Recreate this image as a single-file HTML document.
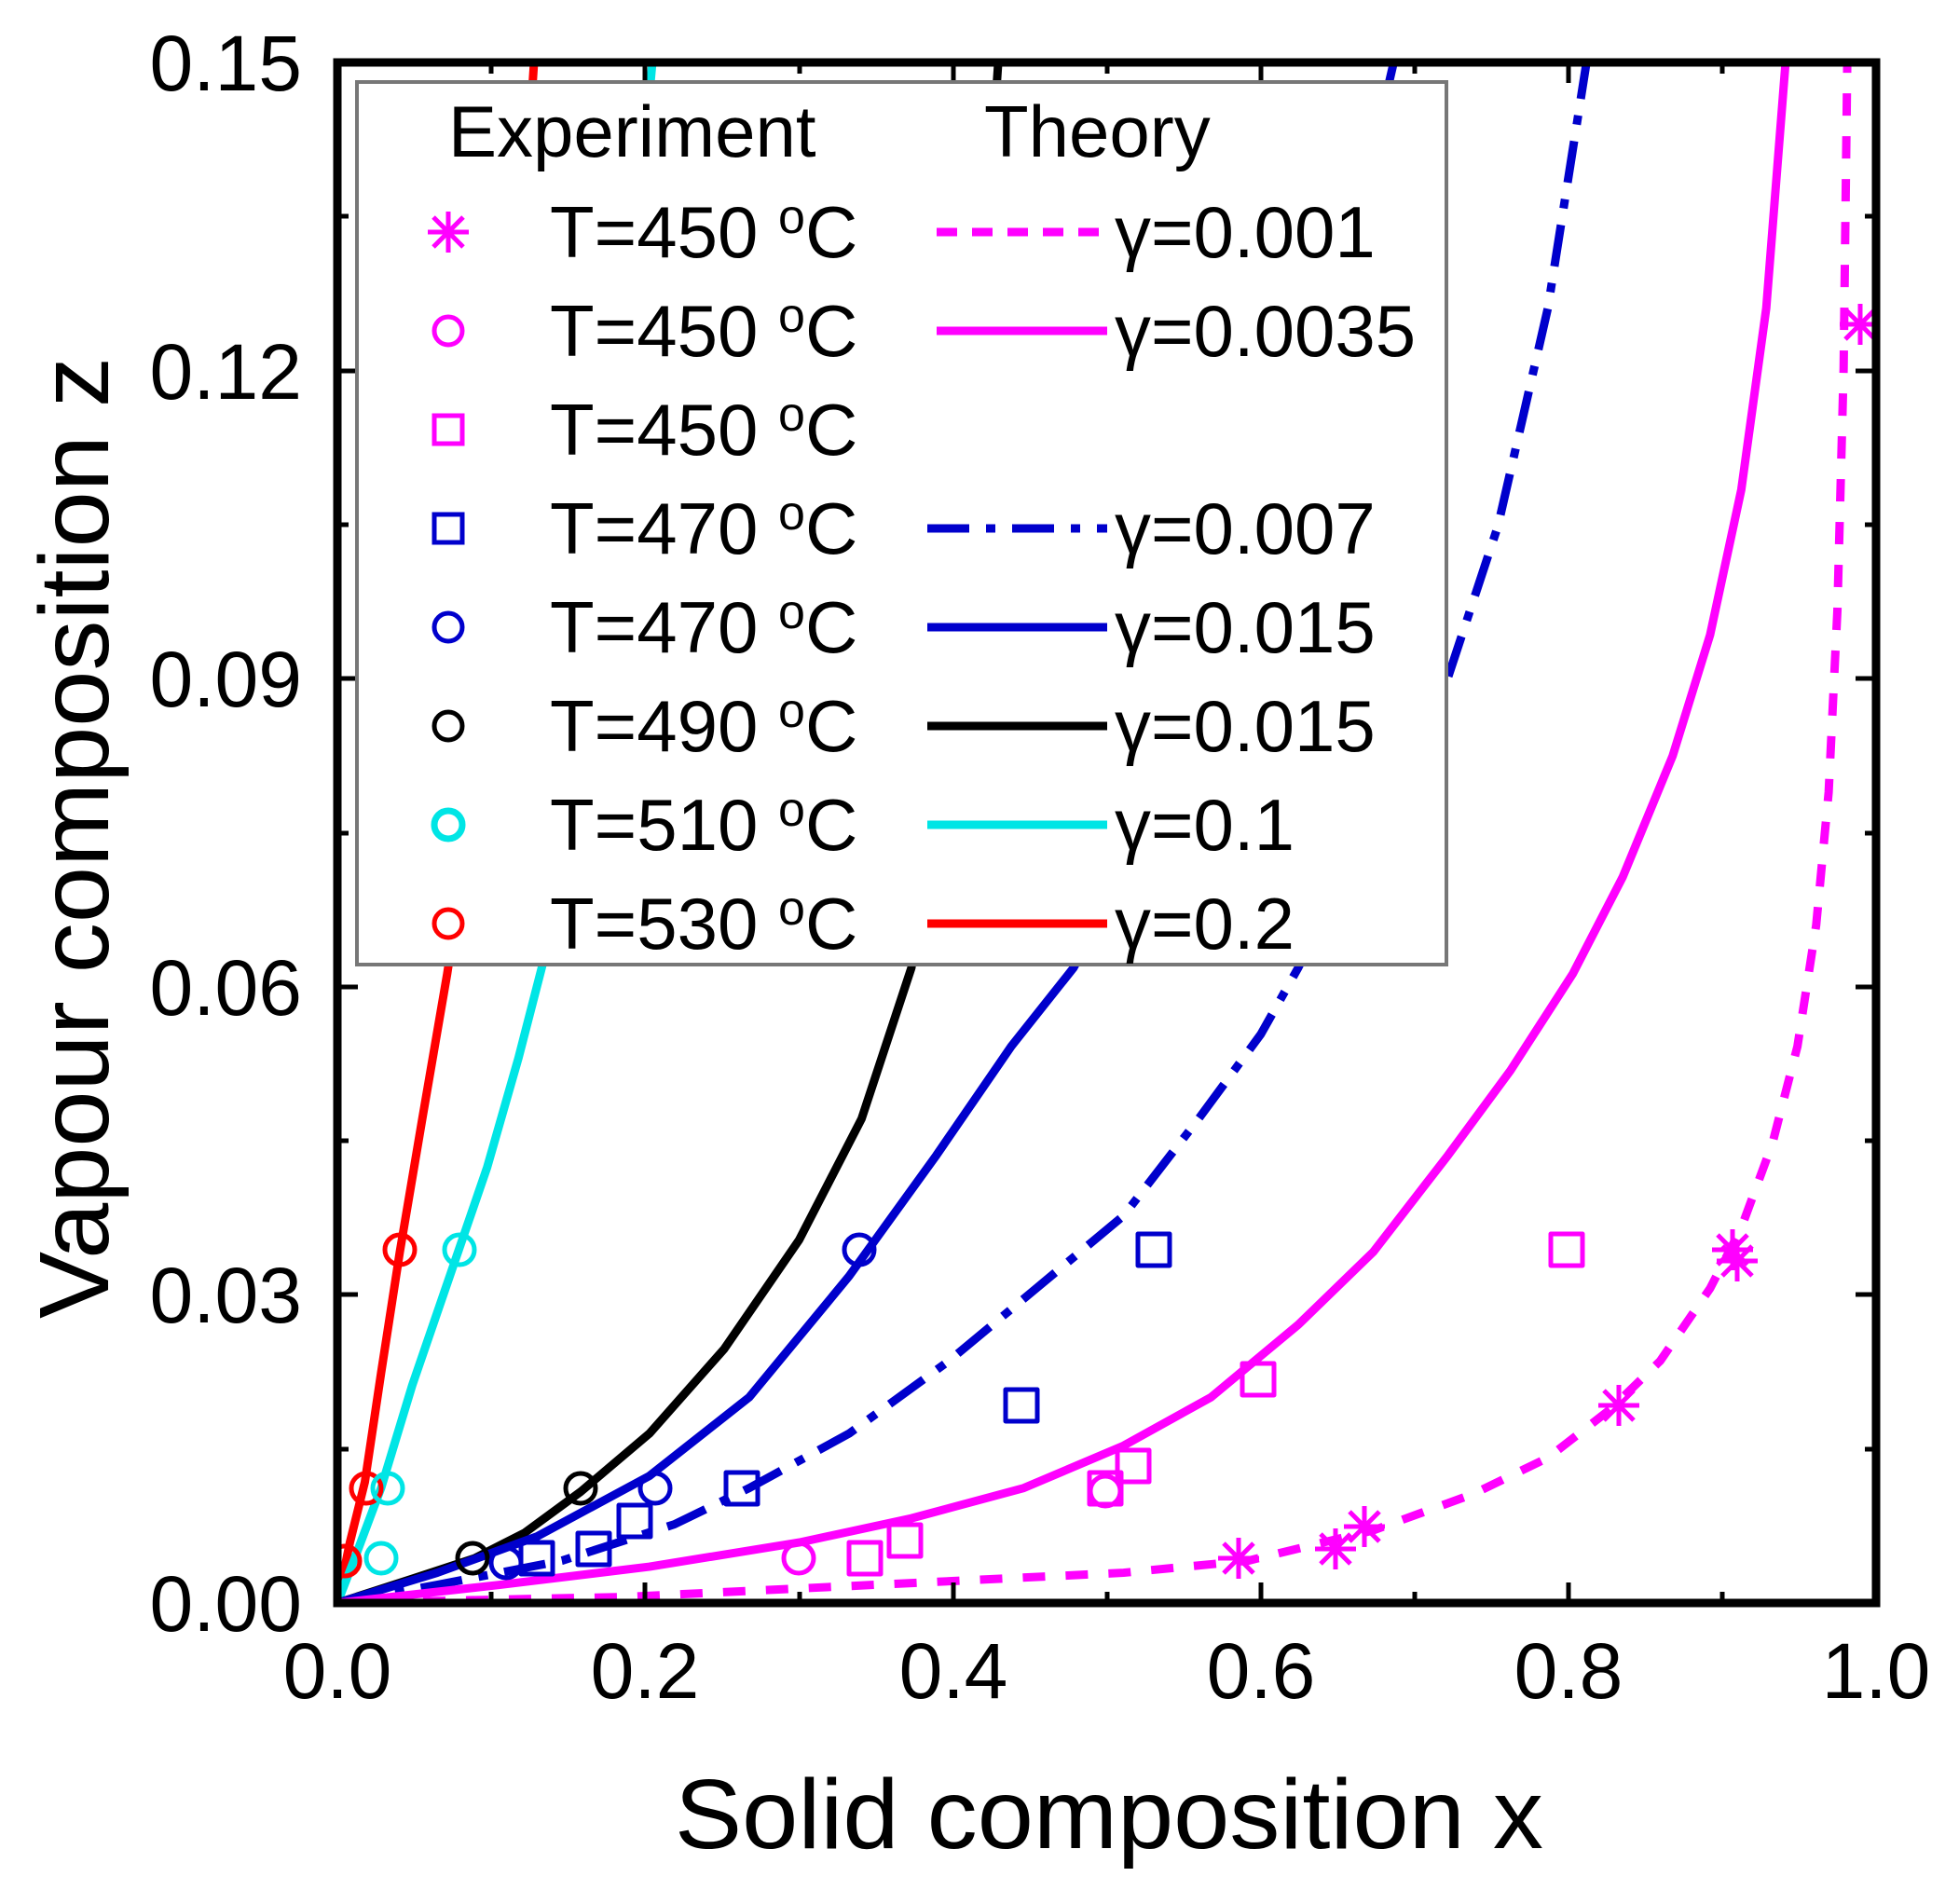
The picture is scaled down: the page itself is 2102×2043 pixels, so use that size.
<!DOCTYPE html>
<html><head><meta charset="utf-8"><style>
html,body{margin:0;padding:0;background:#fff}
svg{display:block;font-family:"Liberation Sans",Arial,sans-serif}
</style></head><body>
<svg width="2102" height="2043" viewBox="0 0 2102 2043" xmlns="http://www.w3.org/2000/svg">
<defs>
<clipPath id="pc"><rect x="362" y="67" width="1651" height="1653"/></clipPath>
<symbol id="st" overflow="visible"><path d="M-22 0H22M0 -22V22M-16 -16L16 16M-16 16L16 -16" stroke="#ff00ff" stroke-width="5" fill="none"/></symbol>
</defs>
<rect width="2102" height="2043" fill="#fff"/>
<g clip-path="url(#pc)" fill="none" stroke-linejoin="round">
<g transform="matrix(1.339 0 0 1.2985 0.5 6)">
<polyline vector-effect="non-scaling-stroke" stroke="#ff0000" stroke-width="9" points="270,1320 280,1270 292,1220 305,1130 320,1030 338,920 358,800 380,650 405,400 428,40"/>
<polyline vector-effect="non-scaling-stroke" stroke="#00e5e5" stroke-width="9" points="270,1320 285,1280 305,1225 330,1140 360,1050 390,960 415,870 435,790 470,550 500,300 523,40"/>
<polyline vector-effect="non-scaling-stroke" stroke="#000" stroke-width="9" points="270,1320 330,1300 380,1283 420,1262 465,1228 520,1180 580,1110 640,1020 690,920 730,795 770,500 800,40"/>
<polyline vector-effect="non-scaling-stroke" stroke="#0000cc" stroke-width="9" points="270,1320 350,1295 430,1265 520,1215 600,1150 680,1050 750,950 810,860 860,795 930,660 1000,500 1060,300 1118,40"/>
<polyline vector-effect="non-scaling-stroke" stroke="#0000cc" stroke-width="9" stroke-dasharray="45 18 10 18" points="270,1320 350,1305 450,1285 540,1255 600,1225 680,1180 760,1120 830,1060 900,1000 960,920 1010,850 1040,795 1090,690 1130,600 1160,555 1200,430 1240,250 1272,40"/>
<polyline vector-effect="non-scaling-stroke" stroke="#ff00ff" stroke-width="9" points="270,1320 400,1305 520,1290 640,1270 730,1250 820,1225 900,1190 970,1150 1040,1090 1100,1030 1160,950 1210,880 1260,800 1300,720 1340,620 1370,520 1395,400 1415,250 1431,40"/>
<polyline vector-effect="non-scaling-stroke" stroke="#ff00ff" stroke-width="9" stroke-dasharray="24 22" points="270,1320 500,1315 700,1305 900,1295 1000,1285 1100,1260 1180,1230 1240,1200 1290,1160 1330,1120 1370,1060 1395,1010 1420,940 1440,860 1455,760 1465,650 1472,500 1477,300 1480,40"/>
</g>
<g stroke-width="5">
<g stroke="#ff0000"><circle cx="429" cy="1341" r="16"/><circle cx="393" cy="1597" r="16"/><circle cx="370" cy="1675" r="16"/></g>
<g stroke="#00e5e5"><circle cx="493" cy="1341" r="16"/><circle cx="416" cy="1597" r="16"/><circle cx="409" cy="1672" r="16"/></g>
<g stroke="#000"><circle cx="623" cy="1597" r="16"/><circle cx="507" cy="1672" r="16"/></g>
<g stroke="#0000cc"><circle cx="922" cy="1341" r="16"/><circle cx="703" cy="1597" r="16"/><circle cx="543" cy="1677" r="16"/>
<rect x="1221" y="1324" width="34" height="34"/><rect x="1079" y="1491" width="34" height="34"/><rect x="779" y="1580" width="34" height="34"/><rect x="664" y="1615" width="34" height="34"/><rect x="620" y="1645" width="34" height="34"/><rect x="559" y="1655" width="34" height="34"/></g>
<g stroke="#ff00ff"><rect x="1664" y="1324" width="34" height="34"/><rect x="1333" y="1463" width="34" height="34"/><rect x="1199" y="1556" width="34" height="34"/><rect x="1169" y="1580" width="34" height="34"/><rect x="954" y="1636" width="34" height="34"/><rect x="911" y="1655" width="34" height="34"/>
<circle cx="857" cy="1672" r="16"/><circle cx="1186" cy="1600" r="16"/></g>
</g>
<use href="#st" x="1996" y="348"/><use href="#st" x="1859" y="1341"/><use href="#st" x="1864" y="1353"/><use href="#st" x="1737" y="1508"/><use href="#st" x="1464" y="1638"/><use href="#st" x="1433" y="1662"/><use href="#st" x="1329" y="1672"/>
</g>
<!-- ticks -->
<g stroke="#000" stroke-width="5">
<path d="M527 1720v-12M858 1720v-12M1188 1720v-12M1518 1720v-12M1848 1720v-12M692 1720v-22M1023 1720v-22M1353 1720v-22M1683 1720v-22
M527 67v12M858 67v12M1188 67v12M1518 67v12M1848 67v12M692 67v22M1023 67v22M1353 67v22M1683 67v22
M362 1555h12M362 1224h12M362 894h12M362 563h12M362 232h12M362 1389h22M362 1059h22M362 728h22M362 398h22
M2013 1555h-12M2013 1224h-12M2013 894h-12M2013 563h-12M2013 232h-12M2013 1389h-22M2013 1059h-22M2013 728h-22M2013 398h-22"/>
</g>
<rect x="362" y="67" width="1651" height="1653" fill="none" stroke="#000" stroke-width="9"/>
<!-- legend -->
<rect x="383" y="88" width="1169" height="947" fill="#fff" stroke="#777" stroke-width="4"/>
<g font-size="78" fill="#000">
<text x="481" y="168">Experiment</text><text x="1056" y="168">Theory</text>
<g id="rows">
<text x="590" y="276">T=450 <tspan font-size="52" dy="-26">o</tspan><tspan dy="26">C</tspan></text>
<text x="590" y="382">T=450 <tspan font-size="52" dy="-26">o</tspan><tspan dy="26">C</tspan></text>
<text x="590" y="488">T=450 <tspan font-size="52" dy="-26">o</tspan><tspan dy="26">C</tspan></text>
<text x="590" y="594">T=470 <tspan font-size="52" dy="-26">o</tspan><tspan dy="26">C</tspan></text>
<text x="590" y="700">T=470 <tspan font-size="52" dy="-26">o</tspan><tspan dy="26">C</tspan></text>
<text x="590" y="806">T=490 <tspan font-size="52" dy="-26">o</tspan><tspan dy="26">C</tspan></text>
<text x="590" y="912">T=510 <tspan font-size="52" dy="-26">o</tspan><tspan dy="26">C</tspan></text>
<text x="590" y="1018">T=530 <tspan font-size="52" dy="-26">o</tspan><tspan dy="26">C</tspan></text>
</g>
<text x="1196" y="276">γ=0.001</text>
<text x="1196" y="382">γ=0.0035</text>
<text x="1196" y="594">γ=0.007</text>
<text x="1196" y="700">γ=0.015</text>
<text x="1196" y="806">γ=0.015</text>
<text x="1196" y="912">γ=0.1</text>
<text x="1196" y="1018">γ=0.2</text>
</g>
<g fill="none" stroke-width="9">
<line x1="1005" y1="249" x2="1188" y2="249" stroke="#ff00ff" stroke-dasharray="22 16"/>
<line x1="1005" y1="355" x2="1188" y2="355" stroke="#ff00ff"/>
<line x1="995" y1="567" x2="1188" y2="567" stroke="#0000cc" stroke-dasharray="45 18 10 18"/>
<line x1="995" y1="673" x2="1188" y2="673" stroke="#0000cc"/>
<line x1="995" y1="779" x2="1188" y2="779" stroke="#000"/>
<line x1="995" y1="885" x2="1188" y2="885" stroke="#00e5e5"/>
<line x1="995" y1="991" x2="1188" y2="991" stroke="#ff0000"/>
</g>
<g fill="none" stroke-width="5">
<use href="#st" x="481" y="249"/>
<circle cx="481" cy="355" r="15" stroke="#ff00ff"/>
<rect x="466" y="446" width="30" height="30" stroke="#ff00ff"/>
<rect x="466" y="552" width="30" height="30" stroke="#0000cc"/>
<circle cx="481" cy="673" r="15" stroke="#0000cc"/>
<circle cx="481" cy="779" r="15" stroke="#000"/>
<circle cx="481" cy="885" r="15" stroke="#00e5e5" stroke-width="7"/>
<circle cx="481" cy="991" r="15" stroke="#ff0000"/>
</g>
<!-- tick labels -->
<g font-size="84" fill="#000" text-anchor="end">
<text x="324" y="97">0.15</text><text x="324" y="428">0.12</text><text x="324" y="758">0.09</text>
<text x="324" y="1089">0.06</text><text x="324" y="1419">0.03</text><text x="324" y="1750">0.00</text>
</g>
<g font-size="84" fill="#000" text-anchor="middle">
<text x="362" y="1822">0.0</text><text x="692" y="1822">0.2</text><text x="1023" y="1822">0.4</text>
<text x="1353" y="1822">0.6</text><text x="1683" y="1822">0.8</text><text x="2013" y="1822">1.0</text>
</g>
<text x="1190" y="1983" font-size="106" text-anchor="middle" textLength="932" lengthAdjust="spacingAndGlyphs">Solid composition x</text>
<text transform="translate(116 899) rotate(-90)" font-size="106" text-anchor="middle" textLength="1032" lengthAdjust="spacingAndGlyphs">Vapour composition z</text>
</svg>
</body></html>
